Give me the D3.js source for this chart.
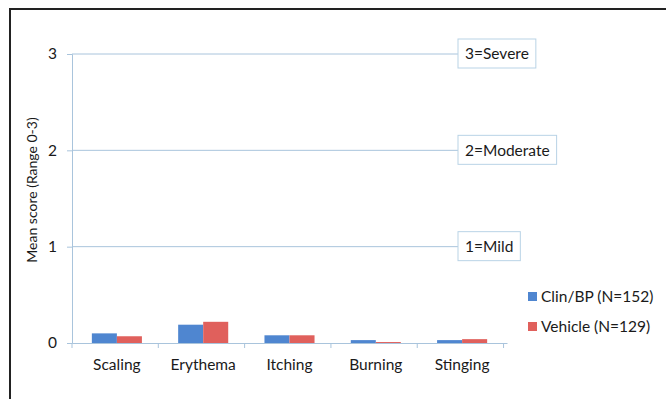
<!DOCTYPE html>
<html>
<head>
<meta charset="utf-8">
<script src="https://cdn.jsdelivr.net/npm/d3@7"></script>
<style>
  html, body { margin: 0; padding: 0; background: #fff; }
  svg { display: block; font-family: Lato, "Open Sans", sans-serif; }
</style>
</head>
<body>
<svg id="chart" width="666" height="399"></svg>
<script>
// Symptom categories and mean scores per treatment arm
const categories = ["Scaling", "Erythema", "Itching", "Burning", "Stinging"];
const seriesNames = ["Clin/BP (N=152)", "Vehicle (N=129)"];
const clinBP = [0.10, 0.19, 0.08, 0.03, 0.03];
const vehicle = [0.07, 0.22, 0.08, 0.01, 0.04];
const yTicks = [0, 1, 2, 3];
const severityLabels = ["1=Mild", "2=Moderate", "3=Severe"];
const severityLevels = [1, 2, 3];

const colors = ["#4f86d0", "#e0605c"];
const axisColor = "#a9c4dc";
const textColor = "#1a1a1a";

const svg = d3.select("#chart");

// Outer frame
svg.append("rect")
  .attr("x", 10).attr("y", 9)
  .attr("width", 700).attr("height", 420)
  .attr("fill", "none").attr("stroke", "#222").attr("stroke-width", 2);

const plot = { left: 72, right: 507, top: 54, bottom: 343 };

const x = d3.scaleBand()
  .domain(categories)
  .range([plot.left, plot.right])
  .paddingInner(0.42)
  .paddingOuter(0.23);

const sub = d3.scaleBand()
  .domain(seriesNames)
  .range([0, x.bandwidth()]);

const y = d3.scaleLinear()
  .domain([0, 3])
  .range([plot.bottom, plot.top]);

// Horizontal reference lines at each severity level
svg.append("g").selectAll("line")
  .data(severityLevels)
  .join("line")
  .attr("x1", plot.left)
  .attr("x2", 458)
  .attr("y1", d => y(d))
  .attr("y2", d => y(d))
  .attr("stroke", axisColor)
  .attr("stroke-width", 1);

// Severity callout boxes
const callouts = svg.append("g");
severityLevels.forEach((lvl, i) => {
  const g = callouts.append("g");
  const t = g.append("text")
    .attr("x", 465)
    .attr("y", y(lvl))
    .attr("dy", "0.35em")
    .attr("font-size", 15.5)
    .attr("fill", textColor)
    .text(severityLabels[i]);
  const bb = t.node().getBBox();
  g.insert("rect", "text")
    .attr("x", 458)
    .attr("y", y(lvl) - 15)
    .attr("width", bb.width + 14)
    .attr("height", 29)
    .attr("fill", "#fff")
    .attr("stroke", "#b9d3e6")
    .attr("stroke-width", 1);
});

// Bars
const groups = svg.append("g")
  .selectAll("g")
  .data(categories)
  .join("g")
  .attr("transform", d => `translate(${x(d)},0)`);

groups.selectAll("rect")
  .data((d, i) => [
    { s: seriesNames[0], v: clinBP[i], c: colors[0] },
    { s: seriesNames[1], v: vehicle[i], c: colors[1] }
  ])
  .join("rect")
  .attr("x", d => sub(d.s))
  .attr("width", sub.bandwidth())
  .attr("y", d => y(d.v))
  .attr("height", d => y(0) - y(d.v))
  .attr("fill", d => d.c);

// Y axis
const yAxis = svg.append("g")
  .attr("transform", `translate(${plot.left},0)`)
  .call(d3.axisLeft(y).tickValues(yTicks).tickFormat(d3.format("d")).tickSize(5).tickPadding(10));
yAxis.select(".domain").attr("stroke", axisColor);
yAxis.selectAll(".tick line").attr("stroke", axisColor);
yAxis.selectAll(".tick text").attr("font-size", 15.5).attr("fill", textColor)
  .attr("font-family", "Lato, 'Open Sans', sans-serif");

// X axis
const xAxis = svg.append("g")
  .attr("transform", `translate(0,${plot.bottom})`)
  .call(d3.axisBottom(x).tickSize(0).tickPadding(16));
xAxis.select(".domain").attr("stroke", axisColor);
xAxis.selectAll(".tick text").attr("font-size", 15.5).attr("fill", textColor)
  .attr("font-family", "Lato, 'Open Sans', sans-serif");

// Category separator ticks
const step = x.step();
const sepX = d3.range(categories.length + 1).map(i => plot.left + i * step);
svg.append("g").selectAll("line")
  .data(sepX)
  .join("line")
  .attr("x1", d => d).attr("x2", d => d)
  .attr("y1", plot.bottom).attr("y2", plot.bottom + 5)
  .attr("stroke", axisColor);

// Y axis title
svg.append("text")
  .attr("transform", `translate(37,190) rotate(-90)`)
  .attr("text-anchor", "middle")
  .attr("font-size", 14)
  .attr("fill", textColor)
  .text("Mean score (Range 0-3)");

// Legend
const legend = svg.append("g");
seriesNames.forEach((name, i) => {
  const ly = 297 + i * 30;
  legend.append("rect")
    .attr("x", 528).attr("y", ly - 5)
    .attr("width", 9).attr("height", 9)
    .attr("fill", colors[i]);
  legend.append("text")
    .attr("x", 541).attr("y", ly)
    .attr("dy", "0.35em")
    .attr("font-size", 15.5)
    .attr("fill", textColor)
    .text(name);
});
</script>
</body>
</html>
